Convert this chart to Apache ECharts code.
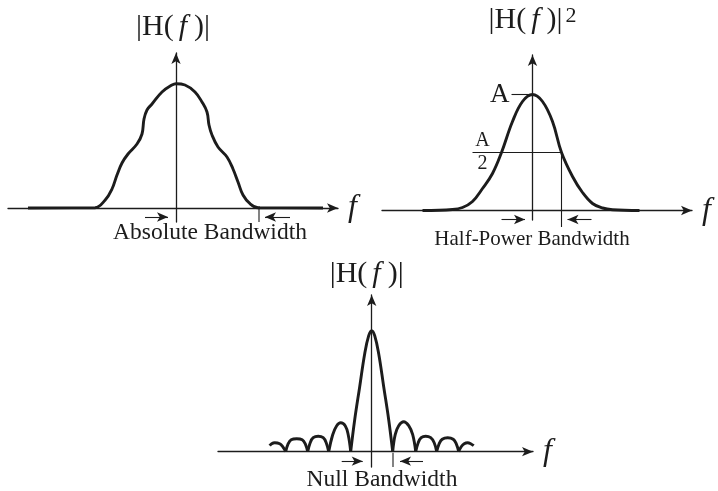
<!DOCTYPE html>
<html>
<head>
<meta charset="utf-8">
<script src="https://cdn.jsdelivr.net/npm/echarts@6/dist/echarts.min.js"></script>
<style>html,body{margin:0;padding:0;background:#fff}#c{width:718px;height:491px}</style>
</head>
<body>
<div id="c"></div>
<script>
// ---- Data (frequency in arbitrary units, amplitude in arbitrary units) ----
// Panel 1: Absolute bandwidth spectrum |H(f)|
const absF = [-148, -81, -71, -64, -59, -54, -48, -39, -34, -32, -29, -24, -14, -4, 0, 9, 19, 26, 31, 33, 36, 42, 51, 57, 62, 67, 74, 82, 147];
const absH = [0, 0.3, 7.7, 19, 33, 45, 54, 64, 74, 89, 98, 104, 116, 123, 124.3, 123, 116, 106, 96, 83, 73, 61, 51, 39, 26, 13, 4.3, 0.3, 0];

// Panel 2: Half-power bandwidth spectrum |H(f)|^2
const powF = [-110, -80, -70, -60, -50, -40, -31, -20, -10, 0, 10, 20, 29, 40, 50, 60, 70, 80, 107];
const powH = [0, 1, 3, 9, 22, 37, 58, 89, 109, 116, 109, 89, 58, 34, 18, 7, 2.5, 0.8, 0];
const peakA = 116;
const halfA = 58;

// Panel 3: Null bandwidth spectrum |H(f)| (sinc-like, lobes separated by nulls)
const nullF = [-102, -100, -97, -92, -89, -86, -83.5, -80.5, -75, -69.5, -66.5, -64, -61.5, -58.5, -53.5, -48.5, -45.5, -43,
  -39, -35, -31, -26.5, -23.5, -21, -17, -12, -7, -3, 0, 3, 7, 12, 17, 21,
  23.5, 27, 32, 37, 41, 44, 46.5, 49.5, 54, 59, 62.5, 65, 67.5, 70.5, 76, 81.5, 84.5, 87, 89.5, 92.5, 96, 99, 102];
const nullH = [6, 8, 9, 8, 5, 0, 8, 12, 13, 12, 8, 0, 9, 14, 15.5, 14, 9, 0,
  17, 26, 29, 26, 17, 0, 32, 65, 98, 116, 121, 116, 98, 65, 32, 0,
  17, 26, 30, 26, 17, 0, 9, 14, 15.5, 14, 9, 0, 8, 12.5, 14, 12.5, 8, 0, 5, 8, 9, 8, 6];

// Bandwidth markers (frequency values)
const absEdge = 83;     // absolute bandwidth edge
const halfEdge = 29;    // half-power point
const nullEdge = 21.3;  // first null

// Texts
const labels = ['Absolute Bandwidth', 'Half-Power Bandwidth', 'Null Bandwidth'];

// ---- Chart ----
const INK = '#1c1c1c';
const SERIF = '"Liberation Serif", "Times New Roman", serif';
const chart = echarts.init(document.getElementById('c'), null, {renderer: 'canvas'});

function zip(a, b) { return a.map((v, i) => [v, b[i]]); }
function splitAtNulls(xs, ys) {
  const segs = []; let cur = [];
  for (let i = 0; i < xs.length; i++) {
    cur.push([xs[i], ys[i]]);
    if (ys[i] === 0 && cur.length > 1) { segs.push(cur); cur = [[xs[i], ys[i]]]; }
  }
  if (cur.length > 1) segs.push(cur);
  return segs;
}

const headRich = {
  i: {fontFamily: SERIF, fontStyle: 'italic', fontSize: 30, color: INK, padding: [0, 7, 0, 5]},
  s: {fontFamily: SERIF, fontSize: 22, color: INK, verticalAlign: 'top', padding: [0, 0, 0, 3]}
};
function xAx(gi, min, max) {
  return {
    type: 'value', gridIndex: gi, min: min, max: max,
    axisLine: {onZero: true, symbol: ['none', 'arrow'], symbolSize: [7, 11], lineStyle: {color: INK, width: 1.3}},
    axisTick: {show: false}, axisLabel: {show: false}, splitLine: {show: false},
    name: 'f', nameLocation: 'end', nameGap: 10,
    nameTextStyle: {fontFamily: SERIF, fontStyle: 'italic', fontSize: 32, color: INK, verticalAlign: 'middle'}
  };
}
function yAx(gi, min, max, name, gap, padRight) {
  return {
    type: 'value', gridIndex: gi, min: min, max: max,
    axisLine: {onZero: true, symbol: ['none', 'arrow'], symbolSize: [7, 11], lineStyle: {color: INK, width: 1.3}},
    axisTick: {show: false}, axisLabel: {show: false}, splitLine: {show: false},
    name: name, nameLocation: 'end', nameGap: gap,
    nameTextStyle: {fontFamily: SERIF, fontSize: 30, color: INK, rich: headRich, padding: [0, padRight, 0, 0]}
  };
}
function arrowLine(x1, x2, y) {
  return [{coord: [x1, y], symbol: 'none'}, {coord: [x2, y], symbol: 'arrow', symbolSize: [7, 11]}];
}
function mk(data) {
  return {silent: true, animation: false, symbol: ['none', 'arrow'], label: {show: false},
    lineStyle: {color: INK, width: 1.1, type: 'solid'}, emphasis: {disabled: true}, data: data};
}
const curveStyle = {color: INK, width: 2.9};
function curve(gi, data, extra) {
  return Object.assign({type: 'line', xAxisIndex: gi, yAxisIndex: gi, data: data, smooth: 0.4,
    symbol: 'none', showSymbol: false, lineStyle: curveStyle, clip: false, silent: true, animation: false}, extra || {});
}
function tick(gi, x, y1, y2) {
  return {type: 'line', xAxisIndex: gi, yAxisIndex: gi, data: [[x, y1], [x, y2]], symbol: 'none',
    lineStyle: {color: INK, width: 1.1}, clip: false, silent: true, animation: false};
}

const series = [];
series.push(curve(0, zip(absF, absH), {markLine: mk([
  arrowLine(-31, -8, -9),
  arrowLine(absEdge + 31, absEdge + 6, -9)
])}));
series.push(tick(0, absEdge, 2, -14));
series.push(curve(1, zip(powF, powH), {
  markLine: mk([
    [{coord: [-21, peakA], symbol: 'none', label: {show: true, position: 'start', formatter: 'A', distance: 2,
      fontFamily: SERIF, fontSize: 27, color: INK}}, {coord: [-1, peakA], symbol: 'none'}],
    [{coord: [-60, halfA], symbol: 'none'}, {coord: [halfEdge, halfA], symbol: 'none'}],
    arrowLine(-31, -7.5, -9),
    arrowLine(halfEdge + 30, halfEdge + 6, -9)
  ]),
  markPoint: {silent: true, animation: false, symbol: 'circle', symbolSize: 0,
    label: {show: true, position: 'inside', formatter: '{a|A}\n{b|2}',
      rich: {a: {fontFamily: SERIF, fontSize: 20, color: INK, lineHeight: 23},
             b: {fontFamily: SERIF, fontSize: 20, color: INK, lineHeight: 23}}},
    data: [{coord: [-50, halfA]}]}
}));
series.push(tick(1, halfEdge, halfA, -16.5));
splitAtNulls(nullF, nullH).forEach((seg, k) => {
  const extra = k === 0 ? {markLine: mk([
    arrowLine(-30, -9, -9.5),
    arrowLine(nullEdge + 30, nullEdge + 7, -9.5)
  ])} : {};
  series.push(curve(2, seg, extra));
});
series.push(tick(2, nullEdge, -1, -15.3));

const option = {
  backgroundColor: '#fff',
  animation: false,
  grid: [
    {left: 8, width: 330, top: 53, height: 169},
    {left: 382, width: 310, top: 55, height: 165},
    {left: 218, width: 315, top: 295, height: 172}
  ],
  xAxis: [xAx(0, -168, 162), xAx(1, -150.5, 159.5), xAx(2, -153.7, 161.3)],
  yAxis: [
    yAx(0, -14, 155, '|H({i|f})|', 11, 6),
    yAx(1, -9.5, 155.5, '|H({i|f})|{s|2}', 20, 0),
    yAx(2, -15.3, 156.7, '|H({i|f})|', 6, 10)
  ],
  graphic: [
    {type: 'text', x: 210, y: 233, silent: true, style: {text: labels[0], font: '23.5px ' + SERIF, fill: INK, align: 'center', verticalAlign: 'middle'}},
    {type: 'text', x: 532, y: 239, silent: true, style: {text: labels[1], font: '21px ' + SERIF, fill: INK, align: 'center', verticalAlign: 'middle'}},
    {type: 'text', x: 382, y: 480, silent: true, style: {text: labels[2], font: '23.5px ' + SERIF, fill: INK, align: 'center', verticalAlign: 'middle'}}
  ],
  series: series
};
chart.setOption(option);
</script>
</body>
</html>
